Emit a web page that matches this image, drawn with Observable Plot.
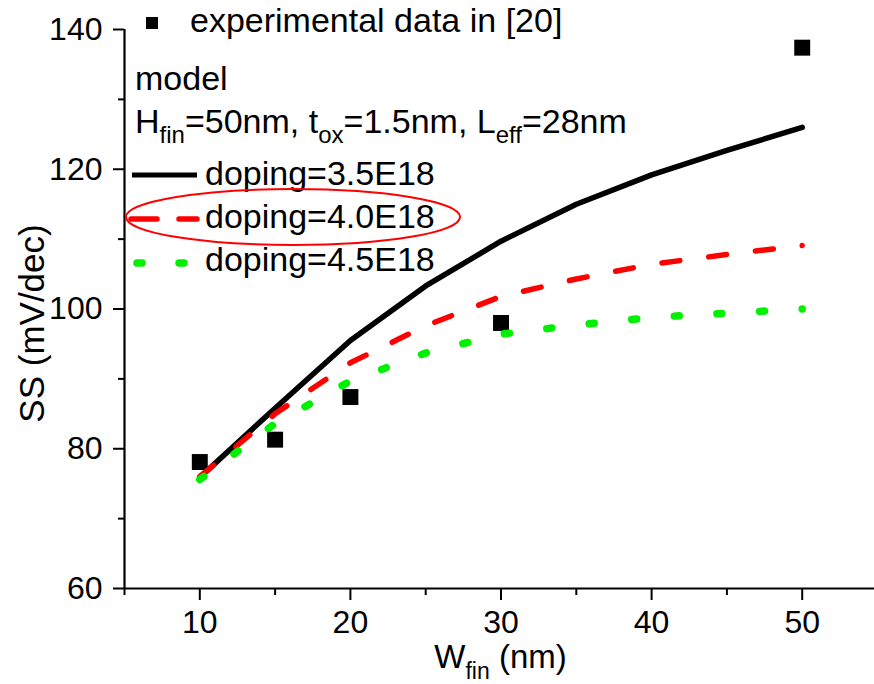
<!DOCTYPE html>
<html>
<head>
<meta charset="utf-8">
<script src="https://cdn.jsdelivr.net/npm/d3@7"></script>
<script src="https://cdn.jsdelivr.net/npm/@observablehq/plot@0.6"></script>
<style>
  html, body { margin: 0; padding: 0; background: #fff; }
  #chart { width: 874px; height: 684px; }
</style>
</head>
<body>
<div id="chart"></div>
<script>
// ---- data ----
const wfin = [10, 15, 20, 25, 30, 35, 40, 45, 50];
const ssDoping35 = [75.9, 85.8, 95.5, 103.3, 109.7, 115.0, 119.2, 122.7, 126.0];
const ssDoping40 = [76.0, 85.0, 92.3, 97.6, 101.8, 104.3, 106.4, 107.8, 109.1];
const ssDoping45 = [75.6, 83.6, 89.7, 93.7, 96.4, 97.7, 98.8, 99.4, 100.0];
const expW = [10, 15, 20, 30, 50];
const expSS = [78.1, 81.3, 87.4, 98.0, 137.4];
const seriesNames = ["doping=3.5E18", "doping=4.0E18", "doping=4.5E18"];
const expName = "experimental data in [20]";
const xMajorTicks = [10, 20, 30, 40, 50];
const xMinorTicks = [5, 15, 25, 35, 45];
const yMajorTicks = [60, 80, 100, 120, 140];
const yMinorTicks = [70, 90, 110, 130];

const FONT = "'Liberation Sans', Arial, Helvetica, sans-serif";
const GREEN = "#00f000";
const toRows = (ys) => wfin.map((w, i) => ({w, ss: ys[i]}));
const expRows = expW.map((w, i) => ({w, ss: expSS[i]}));

// fit a dash pattern so that it both starts and ends with a dash
function fitDash(dash, period) {
  return (index, scales, values, dim, context, next) => {
    const X = values.x, Y = values.y;
    let len = 0;
    for (let k = 1; k < index.length; ++k) {
      len += Math.hypot(X[index[k]] - X[index[k - 1]], Y[index[k]] - Y[index[k - 1]]);
    }
    const n = Math.max(1, Math.round(len / period));
    const p = len / n;
    const g = next(index, scales, values, dim, context);
    g.querySelectorAll("path").forEach(el => el.setAttribute("stroke-dasharray", `${dash},${p - dash}`));
    return g;
  };
}

// overlay: legend + rich-text axis labels
function overlay(index, scales, values, dim) {
  const g = d3.create("svg:g").attr("font-family", FONT).attr("fill", "black").attr("text-anchor", "start");
  // legend: experimental square
  g.append("rect").attr("x", 146).attr("y", 17).attr("width", 12).attr("height", 12).attr("fill", "black");
  g.append("text").attr("x", 190).attr("y", 32).attr("font-size", 34).text(expName);
  g.append("text").attr("x", 135).attr("y", 90).attr("font-size", 34).text("model");
  // parameters line with subscripts
  const p = g.append("text").attr("x", 135).attr("y", 133).attr("font-size", 34);
  const parts = [["H", false], ["fin", true], ["=50nm, t", false], ["ox", true], ["=1.5nm, L", false], ["eff", true], ["=28nm", false]];
  for (const [t, sub] of parts) {
    p.append("tspan").attr("font-size", sub ? 24 : 34).attr("dy", sub ? 10 : (t === "H" ? 0 : -10)).text(t);
  }
  // legend lines
  const styles = [
    {stroke: "black", width: 5, dash: null, cap: "butt", x1: 132, y: 175, ty: 185},
    {stroke: "#ff0000", width: 5.5, dash: "26,22", cap: "round", x1: 131, y: 219, ty: 228},
    {stroke: GREEN, width: 7.5, dash: "5,37", cap: "round", x1: 137, y: 263, ty: 271}
  ];
  styles.forEach((s, i) => {
    g.append("line").attr("x1", s.x1).attr("x2", 197).attr("y1", s.y).attr("y2", s.y)
      .attr("stroke", s.stroke).attr("stroke-width", s.width)
      .attr("stroke-dasharray", s.dash).attr("stroke-linecap", s.cap);
    g.append("text").attr("x", 205).attr("y", s.ty).attr("font-size", 34).text(seriesNames[i]);
  });
  // red ellipse highlighting doping=4.0E18
  g.append("ellipse").attr("cx", 293).attr("cy", 217).attr("rx", 167).attr("ry", 28)
    .attr("fill", "none").attr("stroke", "#ff0000").attr("stroke-width", 2);
  // x-axis label  W_fin (nm)
  const xl = g.append("text").attr("x", scales.x(30)).attr("y", 668).attr("font-size", 33).attr("text-anchor", "middle");
  xl.append("tspan").text("W");
  xl.append("tspan").attr("font-size", 23).attr("dy", 11).text("fin");
  xl.append("tspan").attr("dy", -11).text(" (nm)");
  // y-axis label
  g.append("text").attr("transform", `translate(44,${(scales.y(60) + scales.y(140)) / 2 + 15}) rotate(-90)`)
    .attr("text-anchor", "middle").attr("font-size", 35).text("SS (mV/dec)");
  return g.node();
}

const chart = Plot.plot({
  width: 874,
  height: 684,
  marginLeft: 124,
  marginRight: 0,
  marginTop: 29,
  marginBottom: 96,
  style: {fontFamily: FONT, background: "white", color: "black", overflow: "visible"},
  x: {domain: [5, 54.8], label: null},
  y: {domain: [60, 140], label: null},
  marks: [
    Plot.axisX(xMajorTicks, {tickSize: 12, tickPadding: 10, fontSize: 32, strokeWidth: 2, label: null, tickFormat: d => String(d)}),
    Plot.axisX(xMinorTicks, {tickSize: 7, strokeWidth: 2, label: null, tickFormat: () => ""}),
    Plot.axisY(yMajorTicks, {tickSize: 11, tickPadding: 11, fontSize: 32, strokeWidth: 2, label: null, tickFormat: d => String(d)}),
    Plot.axisY(yMinorTicks, {tickSize: 6, strokeWidth: 2, label: null, tickFormat: () => ""}),
    Plot.ruleY([60], {strokeWidth: 2.2}),
    Plot.ruleX([5], {y1: 60, y2: 140, strokeWidth: 2.2}),
    Plot.dot(expRows, {x: "w", y: "ss", symbol: "square", r: 9, fill: "black", stroke: null}),
    Plot.line(toRows(ssDoping35), {x: "w", y: "ss", stroke: "black", strokeWidth: 5.5, strokeLinejoin: "round"}),
    Plot.line(toRows(ssDoping40), {x: "w", y: "ss", stroke: "#ff0000", strokeWidth: 5.5, strokeDasharray: "18,30", strokeLinecap: "round", strokeLinejoin: "round", render: fitDash(18, 48)}),
    Plot.line(toRows(ssDoping45), {x: "w", y: "ss", stroke: GREEN, strokeWidth: 7.5, strokeDasharray: "5,38", strokeLinecap: "round", strokeLinejoin: "round", render: fitDash(5, 43)}),
    overlay
  ]
});
document.getElementById("chart").append(chart);
</script>
</body>
</html>
